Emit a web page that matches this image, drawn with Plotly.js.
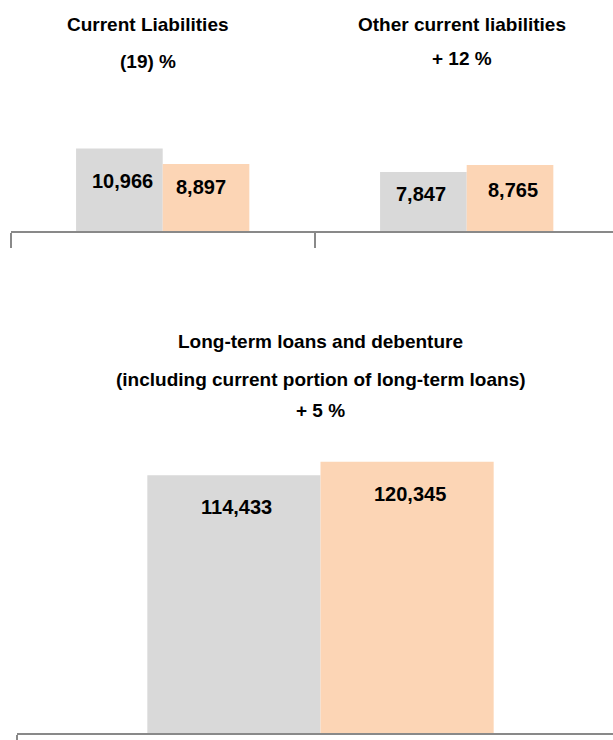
<!DOCTYPE html>
<html>
<head>
<meta charset="utf-8">
<script src="https://cdn.plot.ly/plotly-3.0.1.min.js"></script>
<style>
  html, body { margin: 0; padding: 0; background: #ffffff; }
  #chart { width: 613px; height: 740px; }
</style>
</head>
<body>
<div id="chart"></div>
<script>
// ---------------- data ----------------
const categoriesTop = ['Current Liabilities', 'Other current liabilities'];
const previousTop = [10966, 7847];
const currentTop = [8897, 8765];
const changeTop = ['(19) %', '+ 12 %'];

const categoriesBottom = ['Long-term loans and debenture'];
const subtitleBottom = '(including current portion of long-term loans)';
const previousBottom = [114433];
const currentBottom = [120345];
const changeBottom = ['+ 5 %'];

// ---------------- style ----------------
const W = 613, H = 740;
const py = p => 1 - p / H;          // pixel row -> paper fraction
const FONT = 'Liberation Sans, Arial, Helvetica, sans-serif';
const GREY = '#d9d9d9';
const PEACH = '#fcd5b5';
const AXIS = '#898989';
const BARGAP = 0.43;
const HALF = (1 - BARGAP) / 4;      // offset of each bar centre from category centre
// label offsets (px) below bar top: [previous, current] per category
const dropTop = [[33, 23], [22, 25]];
const dxTop = [[3, -5], [-2, 3]];
const dropBottom = [[32, 32]];
const dxBottom = [[3, 3]];
const titleDxTop = [-15, -5];

const fmt = v => v.toLocaleString('en-US');

const traces = [
  { type: 'bar', name: 'Previous', x: categoriesTop, y: previousTop, xaxis: 'x', yaxis: 'y',
    marker: { color: GREY, line: { width: 0 } }, hoverinfo: 'skip' },
  { type: 'bar', name: 'Current', x: categoriesTop, y: currentTop, xaxis: 'x', yaxis: 'y',
    marker: { color: PEACH, line: { width: 0 } }, hoverinfo: 'skip' },
  { type: 'bar', name: 'Previous', x: categoriesBottom, y: previousBottom, xaxis: 'x2', yaxis: 'y2',
    marker: { color: GREY, line: { width: 0 } }, hoverinfo: 'skip' },
  { type: 'bar', name: 'Current', x: categoriesBottom, y: currentBottom, xaxis: 'x2', yaxis: 'y2',
    marker: { color: PEACH, line: { width: 0 } }, hoverinfo: 'skip' }
];

const labelFont = { family: FONT, size: 20, color: '#000000', weight: 700 };
const titleFont = { family: FONT, size: 19, color: '#000000', weight: 700 };

const annotations = [];
function addValueLabels(cats, prev, curr, drops, dxs, xr, yr) {
  cats.forEach((c, i) => {
    [[prev[i], -HALF, 0], [curr[i], HALF, 1]].forEach(([v, off, k]) => {
      annotations.push({
        xref: xr, yref: yr, x: i + off, y: v, text: fmt(v),
        showarrow: false, xanchor: 'center', yanchor: 'middle',
        xshift: dxs[i][k], yshift: -drops[i][k], font: labelFont
      });
    });
  });
}
addValueLabels(categoriesTop, previousTop, currentTop, dropTop, dxTop, 'x', 'y');
addValueLabels(categoriesBottom, previousBottom, currentBottom, dropBottom, dxBottom, 'x2', 'y2');

// titles
categoriesTop.forEach((c, i) => {
  annotations.push({ xref: 'x', yref: 'paper', x: i, y: py(i === 0 ? 25 : 24), text: c,
    showarrow: false, xanchor: 'center', yanchor: 'middle', xshift: titleDxTop[i], font: titleFont });
  annotations.push({ xref: 'x', yref: 'paper', x: i, y: py(i === 0 ? 61 : 59), text: changeTop[i],
    showarrow: false, xanchor: 'center', yanchor: 'middle', xshift: titleDxTop[i], font: titleFont });
});
annotations.push({ xref: 'x2', yref: 'paper', x: 0, y: py(341), text: categoriesBottom[0],
  showarrow: false, xanchor: 'center', yanchor: 'middle', font: titleFont });
annotations.push({ xref: 'x2', yref: 'paper', x: 0, y: py(379), text: subtitleBottom,
  showarrow: false, xanchor: 'center', yanchor: 'middle', font: titleFont });
annotations.push({ xref: 'x2', yref: 'paper', x: 0, y: py(410), text: changeBottom[0],
  showarrow: false, xanchor: 'center', yanchor: 'middle', font: titleFont });

const xBase = {
  type: 'category', showline: true, linecolor: AXIS, linewidth: 2,
  ticks: 'outside', ticklen: 15, tickwidth: 2, tickcolor: AXIS, tickson: 'boundaries',
  showticklabels: false, showgrid: false, zeroline: false, fixedrange: true
};

const layout = {
  width: W, height: H,
  margin: { l: 0, r: 0, t: 0, b: 0, pad: 0 },
  paper_bgcolor: '#ffffff', plot_bgcolor: 'rgba(0,0,0,0)',
  showlegend: false, barmode: 'group', bargap: BARGAP, bargroupgap: 0,
  font: { family: FONT },
  xaxis: Object.assign({}, xBase, { anchor: 'y', domain: [10.7 / W, 1], range: [-0.5, -0.5 + (W - 10.7) / 304] }),
  yaxis: { anchor: 'x', domain: [py(231), py(120)], range: [0, 111 / 0.00753], visible: false, fixedrange: true },
  xaxis2: Object.assign({}, xBase, { anchor: 'y2', domain: [16.7 / W, 1], range: [-0.5, -0.5 + (W - 16.7) / 607.6] }),
  yaxis2: { anchor: 'x2', domain: [py(733), py(440)], range: [0, 293 / 0.002253], visible: false, fixedrange: true },
  annotations: annotations
};

Plotly.newPlot('chart', traces, layout, { staticPlot: true, displayModeBar: false });
</script>
</body>
</html>
